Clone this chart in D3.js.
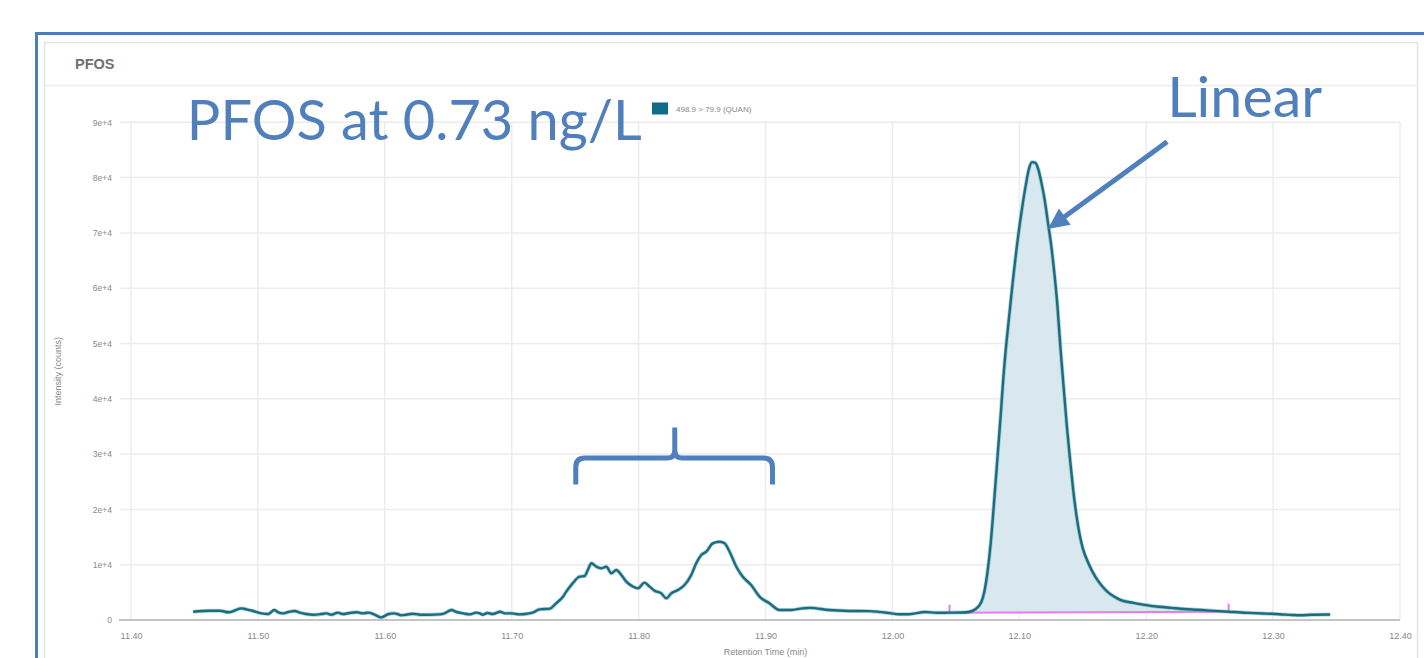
<!DOCTYPE html>
<html>
<head>
<meta charset="utf-8">
<script src="https://cdn.jsdelivr.net/npm/d3@7"></script>
<style>
  html, body { margin: 0; padding: 0; background: #ffffff; overflow: hidden; }
  svg { display: block; }
</style>
</head>
<body>
<svg id="chart" width="1424" height="658"></svg>
<script>
// ---------------- data ----------------
const panelTitle = "PFOS";
const legendLabel = "498.9 > 79.9 (QUAN)";
const xTitle = "Retention Time (min)";
const yTitle = "Intensity (counts)";
const xTicks = [11.40, 11.50, 11.60, 11.70, 11.80, 11.90, 12.00, 12.10, 12.20, 12.30, 12.40];
const yTicks = [0, 10000, 20000, 30000, 40000, 50000, 60000, 70000, 80000, 90000];

const retentionTime = [
  11.449, 11.462, 11.470, 11.477, 11.487, 11.491, 11.496, 11.503, 11.508, 11.513,
  11.516, 11.520, 11.524, 11.529, 11.533, 11.538, 11.5435, 11.550, 11.554, 11.558,
  11.563, 11.567, 11.572, 11.578, 11.583, 11.587, 11.592, 11.597, 11.603, 11.607,
  11.610, 11.613, 11.617, 11.622, 11.628, 11.635, 11.643, 11.647, 11.6525, 11.6565,
  11.662, 11.667, 11.672, 11.675, 11.677, 11.681, 11.685, 11.691, 11.6945, 11.700,
  11.706, 11.712, 11.717, 11.722, 11.730, 11.735, 11.7404, 11.743, 11.748, 11.7535,
  11.7575, 11.760, 11.7628, 11.7667, 11.7706, 11.7746, 11.7785, 11.7824, 11.7864, 11.7903,
  11.7956, 11.7994, 11.8047, 11.8087, 11.8126, 11.8179, 11.8218, 11.8257, 11.831, 11.8362,
  11.8415, 11.8454, 11.8494, 11.8533, 11.8585, 11.8638, 11.8677, 11.8717, 11.877, 11.8821,
  11.8887, 11.8953, 11.9031, 11.911, 11.919, 11.9294, 11.935, 11.950, 11.966, 11.982,
  11.998, 12.005, 12.013, 12.026, 12.035, 12.045, 12.055, 12.060, 12.065, 12.070,
  12.0725, 12.075, 12.0775, 12.080, 12.0825, 12.085, 12.0875, 12.090, 12.0925, 12.095,
  12.0975, 12.100, 12.1025, 12.105, 12.1075, 12.110, 12.1125, 12.115, 12.1175, 12.120,
  12.1225, 12.125, 12.1275, 12.130, 12.1325, 12.135, 12.1375, 12.140, 12.1425, 12.145,
  12.1475, 12.150, 12.155, 12.160, 12.165, 12.170, 12.175, 12.180, 12.190, 12.200,
  12.210, 12.220, 12.230, 12.240, 12.250, 12.265, 12.275, 12.285, 12.295, 12.305,
  12.315, 12.322, 12.330, 12.345
];
const intensity = [
  1500, 1680, 1680, 1390, 2110, 1930, 1630, 1200, 1080, 1810,
  1390, 1200, 1450, 1630, 1330, 1080, 960, 1080, 1200, 960,
  1330, 1080, 1270, 1390, 1200, 1330, 960, 480, 1080, 1200,
  1080, 840, 960, 1140, 960, 960, 1020, 1200, 1810, 1450,
  1200, 1020, 1330, 1200, 960, 1270, 1080, 1500, 1200, 1200,
  1020, 1140, 1390, 1930, 2050, 3020, 4220, 5120, 6630, 7830,
  7960, 9040, 10250, 9640, 9340, 9640, 8440, 9040, 8140, 6930,
  6030, 5720, 6750, 6030, 5300, 4820, 3920, 4820, 5420, 6330,
  8140, 10250, 11750, 12350, 13870, 14160, 13870, 12350, 9640, 7830,
  6330, 4220, 3020, 1810, 1810, 2110, 2200, 1800, 1630, 1600,
  1250, 1030, 1050, 1450, 1300, 1330, 1350, 1450, 1900, 3200,
  5200, 8800, 14000, 21000, 28500, 36000, 44000, 50500, 56000, 61500,
  66500, 71000, 75000, 78500, 81500, 82800, 82700, 81500, 79000, 76000,
  72000, 68000, 63000, 57000, 49000, 42000, 35000, 29000, 23500, 19000,
  15500, 13000, 10000, 7800, 6200, 5000, 4200, 3600, 3100, 2700,
  2400, 2200, 2000, 1850, 1700, 1500, 1350, 1250, 1150, 1050,
  900, 850, 950, 1000
];

// integration window (peak start / end) and baseline intensities
const integrationTimes = [12.045, 12.265];
const integrationBaseline = [1330, 1500];

// annotations (positioned in data space)
const noteTitle = { text: "PFOS at 0.73 ng/L", t: 11.4440, v: 86800 };
const noteLinear = { text: "Linear", t: 12.2165, v: 91000 };
const arrowFrom = { t: 12.2165, v: 86500 };
const arrowTo = { t: 12.1225, v: 70700 };
const brace = { t0: 11.7505, t1: 11.9055, tc: 11.8285, vH: 29300, vEnd: 24500, vPeak: 34800 };

// ---------------- drawing ----------------
const svg = d3.select("#chart");
const W = 1424, H = 658;
const plot = { left: 131, right: 1400, top: 122.3, bottom: 620 };

const x = d3.scaleLinear().domain([11.40, 12.40]).range([plot.left, plot.right]);
const y = d3.scaleLinear().domain([0, 90000]).range([plot.bottom, plot.top]);

const labelFont = "'Liberation Sans', Arial, sans-serif";
const noteFont = "Lato, 'Open Sans', sans-serif";
const noteColor = "#4f7fbd";

// outer slide frame (blue)
svg.append("rect")
  .attr("x", 36.5).attr("y", 33.5).attr("width", W + 20).attr("height", H + 20)
  .attr("fill", "#ffffff").attr("stroke", "#4a7ebb").attr("stroke-width", 3);

// inner panel
svg.append("rect")
  .attr("x", 44.5).attr("y", 42.5).attr("width", 1373).attr("height", H + 20)
  .attr("fill", "#ffffff").attr("stroke", "#e4e4e4").attr("stroke-width", 1.5);
svg.append("line")
  .attr("x1", 45).attr("x2", 1417).attr("y1", 85.5).attr("y2", 85.5)
  .attr("stroke", "#eeeeee").attr("stroke-width", 1.5);
svg.append("text")
  .attr("x", 75).attr("y", 69)
  .attr("font-family", labelFont).attr("font-size", 14.5).attr("font-weight", "bold")
  .attr("fill", "#707070").text(panelTitle);

// gridlines
const grid = svg.append("g");
grid.selectAll("line.v").data(xTicks).join("line")
  .attr("x1", d => x(d)).attr("x2", d => x(d))
  .attr("y1", plot.top).attr("y2", plot.bottom)
  .attr("stroke", "#ececec").attr("stroke-width", 1.5);
grid.selectAll("line.h").data(yTicks.filter(d => d > 0)).join("line")
  .attr("x1", plot.left - 11).attr("x2", plot.right)
  .attr("y1", d => y(d)).attr("y2", d => y(d))
  .attr("stroke", "#ececec").attr("stroke-width", 1.5);

// x axis baseline
svg.append("line")
  .attr("x1", plot.left - 12).attr("x2", plot.right)
  .attr("y1", y(0)).attr("y2", y(0))
  .attr("stroke", "#c4c4c4").attr("stroke-width", 2);

// axes via d3
const fmtY = d => d === 0 ? "0" : d3.format(".0e")(d);
const xAxis = svg.append("g")
  .attr("transform", `translate(0,${plot.bottom})`)
  .call(d3.axisBottom(x).tickValues(xTicks).tickFormat(d3.format(".2f")).tickSize(0).tickPadding(13));
xAxis.select(".domain").remove();
xAxis.selectAll("text").attr("font-family", labelFont).attr("font-size", 9).attr("fill", "#888888");

const yAxis = svg.append("g")
  .attr("transform", `translate(${plot.left - 19},0)`)
  .call(d3.axisLeft(y).tickValues(yTicks).tickFormat(fmtY).tickSize(0).tickPadding(0));
yAxis.select(".domain").remove();
yAxis.selectAll("text").attr("font-family", labelFont).attr("font-size", 8.5).attr("fill", "#888888");

// axis titles
svg.append("text")
  .attr("transform", `translate(61,${(plot.top + plot.bottom) / 2}) rotate(-90)`)
  .attr("text-anchor", "middle")
  .attr("font-family", labelFont).attr("font-size", 9).attr("fill", "#888888")
  .text(yTitle);
svg.append("text")
  .attr("x", (plot.left + plot.right) / 2).attr("y", 655)
  .attr("text-anchor", "middle")
  .attr("font-family", labelFont).attr("font-size", 9).attr("fill", "#888888")
  .text(xTitle);

// legend
svg.append("rect")
  .attr("x", 652).attr("y", 102.5).attr("width", 16).attr("height", 12)
  .attr("fill", "#116c88");
svg.append("text")
  .attr("x", 676).attr("y", 111.5)
  .attr("font-family", labelFont).attr("font-size", 8).attr("fill", "#888888")
  .text(legendLabel);

// series
const series = retentionTime.map((t, i) => ({ t, v: intensity[i] }));
const baseAt = d3.scaleLinear().domain(integrationTimes).range(integrationBaseline);
const peakPts = series.filter(d => d.t >= integrationTimes[0] && d.t <= integrationTimes[1]);

svg.append("path")
  .datum(peakPts)
  .attr("fill", "#d8e8ee")
  .attr("d", d3.area().x(d => x(d.t)).y0(d => y(baseAt(d.t))).y1(d => y(d.v)).curve(d3.curveMonotoneX));

// integration baseline (magenta)
const baseG = svg.append("g");
baseG.append("line")
  .attr("x1", x(integrationTimes[0])).attr("x2", x(integrationTimes[1]))
  .attr("y1", y(integrationBaseline[0])).attr("y2", y(integrationBaseline[1]))
  .attr("stroke", "#e27ef0").attr("stroke-width", 2);
baseG.selectAll("line.tick").data([0, 1]).join("line")
  .attr("x1", i => x(integrationTimes[i])).attr("x2", i => x(integrationTimes[i]))
  .attr("y1", i => y(integrationBaseline[i]) - 8).attr("y2", i => y(integrationBaseline[i]))
  .attr("stroke", "#e27ef0").attr("stroke-width", 2);

const lineGen = d3.line().x(d => x(d.t)).y(d => y(d.v)).curve(d3.curveMonotoneX);
svg.append("path").datum(series)
  .attr("fill", "none").attr("stroke", "#62aebd").attr("stroke-width", 4).attr("stroke-opacity", 0.5)
  .attr("stroke-linejoin", "round").attr("d", lineGen);
svg.append("path").datum(series)
  .attr("fill", "none").attr("stroke", "#1d6c7d").attr("stroke-width", 2.4)
  .attr("stroke-linejoin", "round").attr("d", lineGen);

// annotations
svg.append("text")
  .attr("x", x(noteTitle.t)).attr("y", y(noteTitle.v))
  .attr("font-family", noteFont).attr("font-size", 57).attr("fill", noteColor)
  .attr("textLength", 455).attr("lengthAdjust", "spacingAndGlyphs")
  .text(noteTitle.text);
svg.append("text")
  .attr("x", x(noteLinear.t)).attr("y", y(noteLinear.v))
  .attr("font-family", noteFont).attr("font-size", 57).attr("fill", noteColor)
  .attr("textLength", 155).attr("lengthAdjust", "spacingAndGlyphs")
  .text(noteLinear.text);

// arrow
const ax0 = x(arrowFrom.t), ay0 = y(arrowFrom.v), ax1 = x(arrowTo.t), ay1 = y(arrowTo.v);
const ang = Math.atan2(ay1 - ay0, ax1 - ax0);
const headLen = 21, headW = 10;
const bx = ax1 - headLen * Math.cos(ang), by = ay1 - headLen * Math.sin(ang);
svg.append("line")
  .attr("x1", ax0).attr("y1", ay0).attr("x2", bx + 2 * Math.cos(ang)).attr("y2", by + 2 * Math.sin(ang))
  .attr("stroke", noteColor).attr("stroke-width", 5);
svg.append("path")
  .attr("d", `M${ax1},${ay1} L${bx + headW * Math.sin(ang)},${by - headW * Math.cos(ang)} L${bx - headW * Math.sin(ang)},${by + headW * Math.cos(ang)} Z`)
  .attr("fill", noteColor);

// brace
const bL = x(brace.t0), bR = x(brace.t1), bC = x(brace.tc);
const yH = y(brace.vH), yE = y(brace.vEnd), yP = y(brace.vPeak);
const r = 9;
const braceD = `M${bL},${yE} L${bL},${yH + r} Q${bL},${yH} ${bL + r},${yH} L${bC - 7},${yH} Q${bC},${yH} ${bC},${yH - 8} L${bC},${yP}` +
  ` M${bC},${yH - 8} Q${bC},${yH} ${bC + 7},${yH} L${bR - r},${yH} Q${bR},${yH} ${bR},${yH + r} L${bR},${yE}`;
svg.append("path").attr("d", braceD)
  .attr("fill", "none").attr("stroke", noteColor).attr("stroke-width", 5).attr("stroke-linecap", "butt");
</script>
</body>
</html>
